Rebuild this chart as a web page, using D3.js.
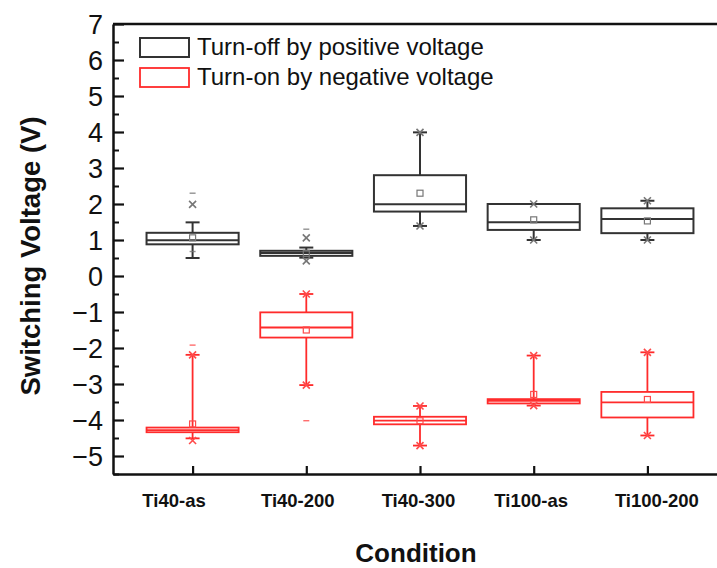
<!DOCTYPE html>
<html>
<head>
<meta charset="utf-8">
<script src="https://cdn.jsdelivr.net/npm/d3@7"></script>
<style>
  html, body { margin: 0; padding: 0; background: #fff; }
  svg { display: block; overflow: hidden; }
  text { font-family: "Liberation Sans", Arial, sans-serif; fill: #111; }
</style>
</head>
<body>
<svg id="chart" width="717" height="568"></svg>
<script>
// Sample conditions along the x axis
const categories = ["Ti40-as", "Ti40-200", "Ti40-300", "Ti100-as", "Ti100-200"];

// Turn-off by positive voltage (V): whisker ends, quartiles, median, mean
const offLow    = [0.50, 0.51, 1.39, 1.00, 1.00];
const offQ1     = [0.88, 0.56, 1.79, 1.28, 1.19];
const offMedian = [0.99, 0.64, 1.99, 1.49, 1.58];
const offQ3     = [1.20, 0.70, 2.80, 2.00, 1.88];
const offHigh   = [1.49, 0.79, 3.99, 2.00, 2.09];
const offMean   = [1.06, 0.63, 2.30, 1.56, 1.53];
const offCross  = [[1.99], [1.06, 0.42], [3.99, 1.39], [2.00, 1.00], [2.09, 1.00]];
const offDash   = [[2.30, 0.68], [1.30], [], [], []];

// Turn-on by negative voltage (V)
const onLow    = [-4.51, -3.03, -4.71, -3.60, -4.43];
const onQ1     = [-4.34, -1.71, -4.12, -3.54, -3.93];
const onMedian = [-4.28, -1.43, -4.02, -3.47, -3.51];
const onQ3     = [-4.21, -1.01, -3.91, -3.42, -3.22];
const onHigh   = [-2.19, -0.50, -3.61, -2.21, -2.12];
const onMean   = [-4.11, -1.50, -4.02, -3.29, -3.43];
const onCross  = [[-2.19, -4.57], [-0.50, -3.03], [-3.61, -4.71], [-2.21, -3.60], [-2.12, -4.43]];
const onDash   = [[-1.92], [-4.02], [], [], []];

// Axis ticks and legend text
const yTicks = [7, 6, 5, 4, 3, 2, 1, 0, -1, -2, -3, -4, -5];
const yMinorTicks = [6.5, 5.5, 4.5, 3.5, 2.5, 1.5, 0.5, -0.5, -1.5, -2.5, -3.5, -4.5, -5.5];
const seriesNames = ["Turn-off by positive voltage", "Turn-on by negative voltage"];
const tickLabelShift = [-19, -9, -2, -3, 9];

const svg = d3.select("#chart");

const x = d3.scaleLinear().domain([0.3, 5.7]).range([113, 727]);
const y = d3.scaleLinear().domain([-5.5, 7]).range([474, 24]);

const boxWidth = 0.81;   // in category units
const capHalf = 7;

// Frame: top edge
svg.append("line")
  .attr("x1", x(0.3)).attr("x2", x(5.7))
  .attr("y1", y(7)).attr("y2", y(7))
  .attr("stroke", "#111").attr("stroke-width", 2.5);

// Y axis with inward ticks
const yAxis = svg.append("g")
  .attr("transform", `translate(${x(0.3)},0)`)
  .call(d3.axisLeft(y).tickValues(yTicks).tickSizeInner(-11).tickSizeOuter(0).tickPadding(10).tickFormat(d3.format("d")));
yAxis.select(".domain").attr("stroke", "#111").attr("stroke-width", 2.5);
yAxis.selectAll(".tick line").attr("stroke", "#111").attr("stroke-width", 2.2);
yAxis.selectAll(".tick text")
  .style("font-size", "27px").style("font-family", "Liberation Sans, Arial, sans-serif")
  .attr("fill", "#111").attr("dy", "0.36em");

const yMinor = svg.append("g")
  .attr("transform", `translate(${x(0.3)},0)`)
  .call(d3.axisLeft(y).tickValues(yMinorTicks).tickSizeInner(-6).tickSizeOuter(0).tickFormat(""));
yMinor.select(".domain").remove();
yMinor.selectAll(".tick line").attr("stroke", "#111").attr("stroke-width", 2);

// X axis with inward ticks
const xAxis = svg.append("g")
  .attr("transform", `translate(0,${y(-5.5)})`)
  .call(d3.axisBottom(x).tickValues(categories.map((c, i) => i + 1)).tickSizeInner(-8).tickSizeOuter(0).tickPadding(20)
    .tickFormat((d) => categories[d - 1]));
xAxis.select(".domain").attr("stroke", "#111").attr("stroke-width", 2.5);
xAxis.selectAll(".tick line").attr("stroke", "#111").attr("stroke-width", 2.2);
xAxis.selectAll(".tick text")
  .style("font-size", "18.5px").style("font-weight", "bold").style("font-family", "Liberation Sans, Arial, sans-serif")
  .attr("fill", "#111")
  .attr("dx", (d) => tickLabelShift[d - 1]);

// Axis titles
svg.append("text")
  .attr("transform", `translate(40,256) rotate(-90)`)
  .attr("text-anchor", "middle")
  .style("font-size", "27.5px").style("font-weight", "bold")
  .text("Switching Voltage (V)");

svg.append("text")
  .attr("x", 416).attr("y", 562)
  .attr("text-anchor", "middle")
  .style("font-size", "26px").style("font-weight", "bold")
  .text("Condition");

// Box plot series
const series = [
  { low: offLow, q1: offQ1, med: offMedian, q3: offQ3, high: offHigh, mean: offMean,
    cross: offCross, dash: offDash, color: "#333", markColor: "#777", width: 2 },
  { low: onLow, q1: onQ1, med: onMedian, q3: onQ3, high: onHigh, mean: onMean,
    cross: onCross, dash: onDash, color: "#ff2b2b", markColor: "#ff4a4a", width: 1.8 }
];

series.forEach((s) => {
  const g = svg.append("g");
  categories.forEach((c, i) => {
    const cx = x(i + 1);
    const hw = (x(boxWidth) - x(0)) / 2;
    const cg = g.append("g");
    // whiskers
    cg.append("line").attr("x1", cx).attr("x2", cx).attr("y1", y(s.high[i])).attr("y2", y(s.q3[i]))
      .attr("stroke", s.color).attr("stroke-width", s.width);
    cg.append("line").attr("x1", cx).attr("x2", cx).attr("y1", y(s.q1[i])).attr("y2", y(s.low[i]))
      .attr("stroke", s.color).attr("stroke-width", s.width);
    [s.high[i], s.low[i]].forEach((v) => {
      cg.append("line").attr("x1", cx - capHalf).attr("x2", cx + capHalf).attr("y1", y(v)).attr("y2", y(v))
        .attr("stroke", s.color).attr("stroke-width", s.width);
    });
    // box
    cg.append("rect")
      .attr("x", cx - hw).attr("width", 2 * hw)
      .attr("y", y(s.q3[i])).attr("height", y(s.q1[i]) - y(s.q3[i]))
      .attr("fill", "none").attr("stroke", s.color).attr("stroke-width", s.width);
    cg.append("line").attr("x1", cx - hw).attr("x2", cx + hw).attr("y1", y(s.med[i])).attr("y2", y(s.med[i]))
      .attr("stroke", s.color).attr("stroke-width", s.width);
    // mean
    cg.append("rect")
      .attr("x", cx - 3).attr("y", y(s.mean[i]) - 3).attr("width", 6).attr("height", 6)
      .attr("fill", "none").attr("stroke", s.markColor).attr("stroke-width", 1.2);
    // 1% / 99% markers
    s.cross[i].forEach((v) => {
      const py = y(v), r = 3.5;
      cg.append("path")
        .attr("d", `M${cx - r},${py - r}L${cx + r},${py + r}M${cx - r},${py + r}L${cx + r},${py - r}`)
        .attr("stroke", s.markColor).attr("stroke-width", 1.6).attr("fill", "none");
    });
    // min / max markers
    s.dash[i].forEach((v) => {
      cg.append("line").attr("x1", cx - 3).attr("x2", cx + 3).attr("y1", y(v)).attr("y2", y(v))
        .attr("stroke", s.markColor).attr("stroke-width", 1.4).attr("opacity", 0.8);
    });
  });
});

// Legend
const legend = svg.append("g");
seriesNames.forEach((name, i) => {
  const ly = 38 + i * 30;
  legend.append("rect")
    .attr("x", 140).attr("y", ly).attr("width", 49).attr("height", 19)
    .attr("fill", "none").attr("stroke", series[i].color).attr("stroke-width", series[i].width);
  legend.append("text")
    .attr("x", 197).attr("y", ly + 17)
    .style("font-size", "24px")
    .text(name);
});
</script>
</body>
</html>
